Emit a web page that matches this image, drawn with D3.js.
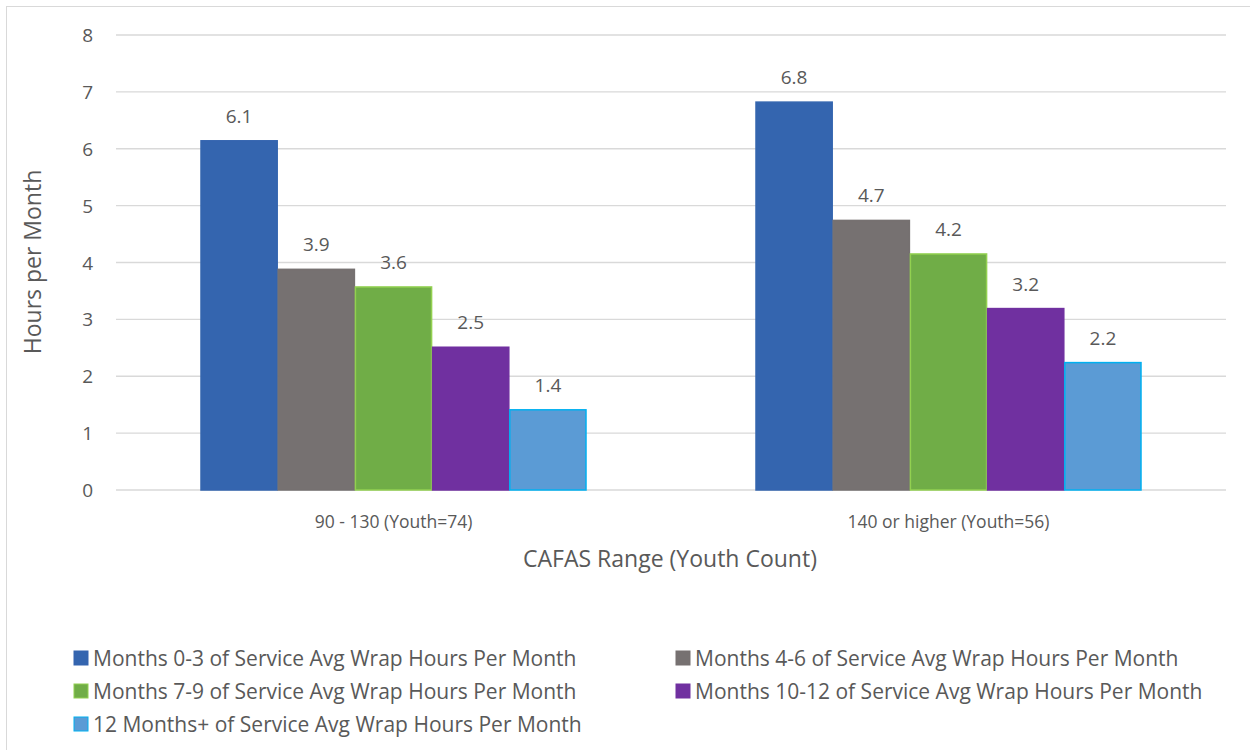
<!DOCTYPE html>
<html>
<head>
<meta charset="utf-8">
<script src="https://cdn.jsdelivr.net/npm/d3@7"></script>
<style>
  body { margin: 0; background: #fff; }
  text { font-family: "Open Sans", "Noto Sans", sans-serif; fill: #595959; }
</style>
</head>
<body>
<svg id="chart" width="1250" height="750"></svg>
<script>
const categories = ["90 - 130 (Youth=74)", "140 or higher (Youth=56)"];
const seriesNames = [
  "Months 0-3 of Service Avg Wrap Hours Per Month",
  "Months 4-6 of Service Avg Wrap Hours Per Month",
  "Months 7-9 of Service Avg Wrap Hours Per Month",
  "Months 10-12 of Service Avg Wrap Hours Per Month",
  "12 Months+ of Service Avg Wrap Hours Per Month"
];
const months0to3 = [6.14, 6.82];
const months4to6 = [3.88, 4.74];
const months7to9 = [3.57, 4.15];
const months10to12 = [2.51, 3.19];
const months12plus = [1.41, 2.24];
const yTicks = [0, 1, 2, 3, 4, 5, 6, 7, 8];

const fills = ["#3465AF", "#767171", "#70AD47", "#7030A0", "#5B9BD5"];
const strokes = ["#3465AF", "#767171", "#92D050", "#7030A0", "#00B0F0"];

const allSeries = [months0to3, months4to6, months7to9, months10to12, months12plus];
const data = categories.map((c, ci) => ({
  cat: c,
  vals: allSeries.map((s, si) => ({ si, v: s[ci] }))
}));

const svg = d3.select('#chart');

// outer frame
svg.append('rect')
  .attr('x', 6.5).attr('y', 6.5)
  .attr('width', 1260).attr('height', 760)
  .attr('fill', 'none').attr('stroke', '#d9d9d9').attr('stroke-width', 1);

const plot = { left: 116, right: 1226, top: 35, bottom: 490 };

const x0 = d3.scaleBand().domain(categories).range([plot.left, plot.right]);
const x1 = d3.scaleBand().domain(d3.range(5)).range([0, 386]);
const y = d3.scaleLinear().domain([0, 8]).range([plot.bottom, plot.top]);

// gridlines
svg.append('g')
  .selectAll('line')
  .data(yTicks)
  .join('line')
    .attr('x1', plot.left).attr('x2', plot.right)
    .attr('y1', d => y(d)).attr('y2', d => y(d))
    .attr('stroke', '#d9d9d9').attr('stroke-width', 1.3)

// y tick labels
svg.append('g')
  .selectAll('text')
  .data(yTicks)
  .join('text')
    .attr('x', 93).attr('y', d => y(d))
    .attr('text-anchor', 'end').attr('dominant-baseline', 'central')
    .style('font-size', '19px')
    .text(d => d)

const groups = svg.append('g')
  .selectAll('g')
  .data(data)
  .join('g')
    .attr('transform', d => `translate(${x0(d.cat) + (x0.bandwidth() - 386) / 2}, 0)`)

groups.selectAll('rect')
  .data(d => d.vals)
  .join('rect')
    .attr('x', d => x1(d.si) + 0.5)
    .attr('y', d => y(d.v))
    .attr('width', x1.bandwidth() - 1)
    .attr('height', d => y(0) - y(d.v))
    .attr('fill', d => fills[d.si])
    .attr('stroke', d => strokes[d.si])
    .attr('stroke-width', 1.5)

groups.selectAll('text')
  .data(d => d.vals)
  .join('text')
    .attr('x', d => x1(d.si) + x1.bandwidth() / 2)
    .attr('y', d => y(d.v) - 25)
    .attr('text-anchor', 'middle')
    .attr('dominant-baseline', 'central')
    .style('font-size', '19px')
    .text(d => d3.format('.1f')(d.v))

// category labels
svg.append('g')
  .selectAll('text')
  .data(categories)
  .join('text')
    .attr('x', d => x0(d) + x0.bandwidth() / 2)
    .attr('y', 521)
    .attr('text-anchor', 'middle')
    .attr('dominant-baseline', 'central')
    .style('font-size', '17.5px')
    .text(d => d)

// axis titles
svg.append('text')
  .attr('x', 670).attr('y', 558)
  .attr('text-anchor', 'middle')
  .attr('dominant-baseline', 'central')
  .style('font-size', '23px')
  .text('CAFAS Range (Youth Count)')

svg.append('text')
  .attr('transform', 'translate(32, 262) rotate(-90)')
  .attr('text-anchor', 'middle')
  .attr('dominant-baseline', 'central')
  .style('font-size', '23px')
  .text('Hours per Month')

// legend
const legend = svg.append('g')
  .selectAll('g')
  .data(seriesNames)
  .join('g')
    .attr('transform', (d, i) => `translate(${i % 2 === 0 ? 74 : 676}, ${658 + Math.floor(i / 2) * 33})`)

legend.append('rect')
  .attr('x', 0).attr('y', -7)
  .attr('width', 14).attr('height', 14)
  .attr('fill', (d, i) => fills[i])
  .attr('stroke', (d, i) => strokes[i])
  .attr('stroke-width', 1)

legend.append('text')
  .attr('x', 19).attr('y', 0)
  .attr('dominant-baseline', 'central')
  .style('font-size', '21px')
  .text(d => d)
</script>
</body>
</html>
